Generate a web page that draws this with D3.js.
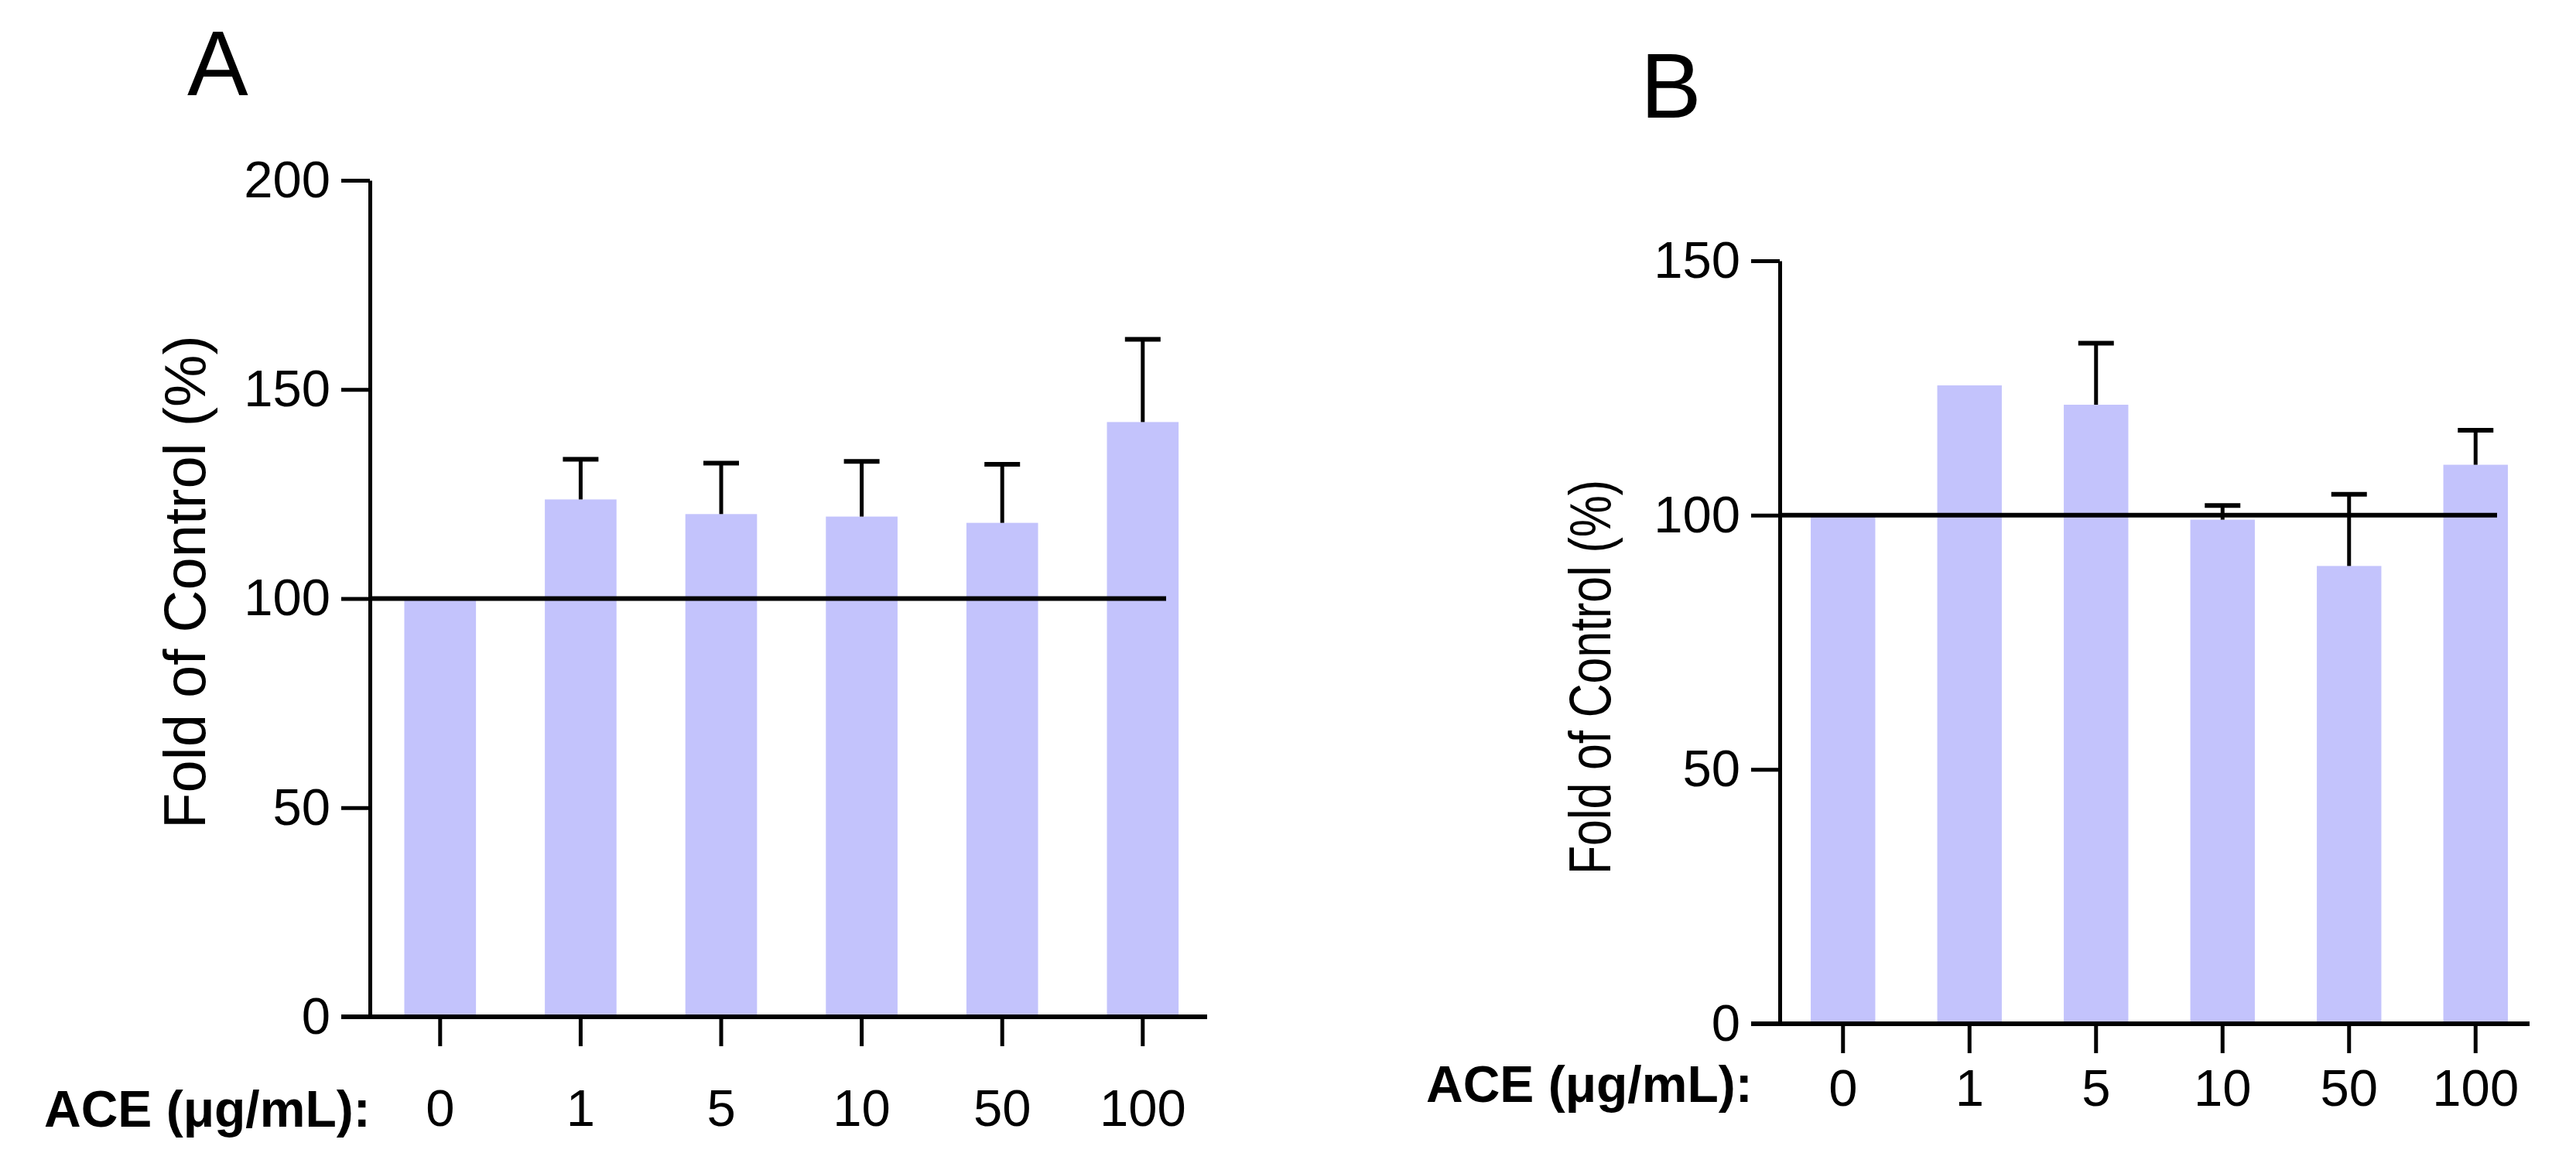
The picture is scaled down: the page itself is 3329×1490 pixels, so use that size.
<!DOCTYPE html>
<html>
<head>
<meta charset="utf-8">
<script src="https://cdn.jsdelivr.net/npm/d3@7"></script>
<style>
  body { margin: 0; background: #fff; }
  svg { display: block; }
  text { font-family: Arial, 'Liberation Sans', sans-serif; fill: #000; }
</style>
</head>
<body>
<div id="chart"></div>
<script>
// Datos
const doses = ['0', '1', '5', '10', '50', '100']
const meanA = [100, 123.7, 120.2, 119.6, 118.1, 142.2]
const errA = [0, 9.6, 12.2, 13.2, 14.0, 19.8]
const meanB = [100, 125.5, 121.7, 99.1, 90.0, 109.9]
const errB = [0, 0, 12.1, 2.8, 14.1, 6.8]
const ticksA = [0, 50, 100, 150, 200]
const ticksB = [0, 50, 100, 150]

const barColor = '#c3c3fc'
const svg = d3.select('#chart').append('svg')
  .attr('width', 3329)
  .attr('height', 1490)

// Dibuja un panel completo
const draw_panel = (cfg) => {
  const g = svg.append('g')
  const data = doses.map((d, i) => ({ dose: d, mean: cfg.mean[i], err: cfg.err[i] }))

  const y = d3.scaleLinear().domain([0, cfg.ymax]).range([cfg.y0, cfg.ytop])
  const x = d3.scaleBand().domain(doses)
    .range([cfg.ax, cfg.ax + cfg.step * doses.length])
    .paddingInner(0.49).paddingOuter(0.245)

  // Barras
  g.selectAll('.bar').data(data).enter().append('rect')
    .attr('x', d => x(d.dose))
    .attr('y', d => y(d.mean))
    .attr('width', x.bandwidth())
    .attr('height', d => y(0) - y(d.mean))
    .attr('fill', barColor)

  // Barras de error (solo hacia arriba)
  const eb = g.selectAll('.err').data(data.filter(d => d.err > 0)).enter().append('g')
  eb.append('line')
    .attr('x1', d => x(d.dose) + x.bandwidth() / 2)
    .attr('x2', d => x(d.dose) + x.bandwidth() / 2)
    .attr('y1', d => y(d.mean))
    .attr('y2', d => y(d.mean + d.err))
    .attr('stroke', '#000').attr('stroke-width', 5)
  eb.append('line')
    .attr('x1', d => x(d.dose) + x.bandwidth() / 2 - 23)
    .attr('x2', d => x(d.dose) + x.bandwidth() / 2 + 23)
    .attr('y1', d => y(d.mean + d.err))
    .attr('y2', d => y(d.mean + d.err))
    .attr('stroke', '#000').attr('stroke-width', 6)

  // Línea de control al 100%
  g.append('line')
    .attr('x1', cfg.ax).attr('x2', cfg.lineEnd)
    .attr('y1', y(100)).attr('y2', y(100))
    .attr('stroke', '#000').attr('stroke-width', 6)

  // Eje Y
  const yAxis = g.append('g')
    .attr('transform', `translate(${cfg.ax},0)`)
    .call(d3.axisLeft(y).tickValues(cfg.ticks).tickSize(37).tickSizeOuter(0).tickPadding(14))
  yAxis.select('.domain').attr('stroke-width', 5)
  yAxis.selectAll('.tick line').attr('stroke-width', 5)
  yAxis.selectAll('text').attr('font-size', 67).attr('font-family', 'Arial, Liberation Sans')

  // Eje X
  g.append('line')
    .attr('x1', cfg.ax - 37).attr('x2', cfg.xEnd)
    .attr('y1', y(0)).attr('y2', y(0))
    .attr('stroke', '#000').attr('stroke-width', 6)
  const xAxis = g.append('g')
    .attr('transform', `translate(0,${y(0)})`)
    .call(d3.axisBottom(x).tickSize(38).tickSizeOuter(0).tickPadding(cfg.xPad))
  xAxis.select('.domain').remove()
  xAxis.selectAll('.tick line').attr('stroke-width', 5)
  xAxis.selectAll('text').attr('font-size', 67).attr('font-family', 'Arial, Liberation Sans')

  // Etiqueta de dosis
  g.append('text')
    .attr('x', cfg.aceX).attr('y', cfg.aceY)
    .attr('dominant-baseline', 'central')
    .attr('font-size', 66).attr('font-weight', 'bold')
    .text('ACE (μg/mL):')

  // Título del eje Y (el de B está más comprimido)
  g.append('text')
    .attr('transform', `translate(${cfg.ylabX},${cfg.ylabY}) rotate(-90) scale(${cfg.ylabScale},1)`)
    .attr('text-anchor', 'middle')
    .attr('dominant-baseline', 'central')
    .attr('font-size', 76)
    .text('Fold of Control (%)')

  // Letra del panel
  g.append('text')
    .attr('x', cfg.letterX).attr('y', cfg.letterY)
    .attr('font-size', 118)
    .text(cfg.letter)
}

draw_panel({
  mean: meanA, err: errA, ymax: 200, ticks: ticksA,
  y0: 1314, ytop: 233, ax: 478, step: 181.6, xEnd: 1560, lineEnd: 1507,
  xPad: 55, aceX: 57, aceY: 1433, ylabX: 238, ylabY: 752, ylabScale: 1,
  letter: 'A', letterX: 242, letterY: 123
})

draw_panel({
  mean: meanB, err: errB, ymax: 150, ticks: ticksB,
  y0: 1323, ytop: 337, ax: 2300, step: 163.5, xEnd: 3269, lineEnd: 3227,
  xPad: 20, aceX: 1843, aceY: 1401, ylabX: 2055, ylabY: 875, ylabScale: 0.8,
  letter: 'B', letterX: 2120, letterY: 152
})
</script>
</body>
</html>
